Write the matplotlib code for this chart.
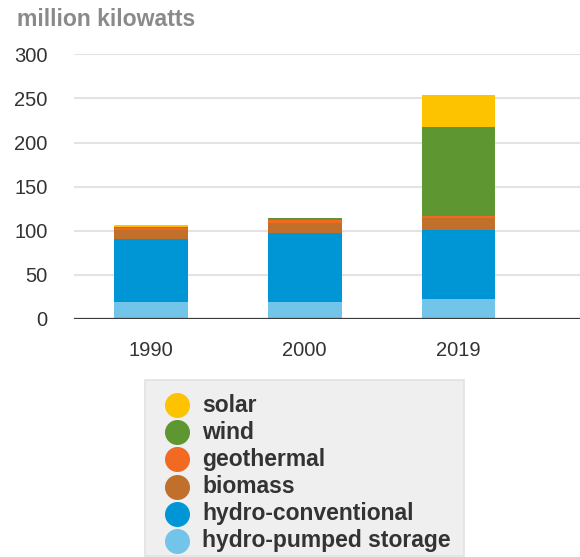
import matplotlib
matplotlib.use("Agg")
import matplotlib.pyplot as plt
from matplotlib.patches import Rectangle
import numpy as np

plt.rcParams['font.family'] = ['Liberation Sans', 'DejaVu Sans']

# Capacity by source, million kilowatts
years = ["1990", "2000", "2019"]
hydro_pumped = [19.0, 19.5, 22.9]
hydro_conventional = [72.0, 77.5, 78.5]
biomass = [10.0, 12.0, 12.8]
geothermal = [2.6, 2.8, 2.2]
wind = [1.2, 2.4, 101.0]
solar = [1.5, 0.3, 36.5]

series_names = ["hydro-pumped storage", "hydro-conventional", "biomass",
                "geothermal", "wind", "solar"]
series_values = [hydro_pumped, hydro_conventional, biomass, geothermal, wind, solar]
series_colors = ["#73c4e9", "#0096d6", "#c0702a", "#f26a22", "#5e9732", "#fdc300"]

y_ticks = [0, 50, 100, 150, 200, 250, 300]

W, H = 580, 557
fig = plt.figure(figsize=(W / 100, H / 100), dpi=100)
ax = fig.add_axes([74 / W, 1 - 319 / H, 506 / W, 264.7 / H])

x = np.arange(len(years))
bottom = np.zeros(len(years))
for vals, col in zip(series_values, series_colors):
    ax.bar(x, vals, bottom=bottom, width=0.48, color=col, zorder=3, linewidth=0)
    bottom += np.array(vals)

ax.set_xlim(-0.5, 2.79)
ax.set_ylim(0, 300)
ax.set_yticks(y_ticks)
ax.set_xticks(x, years)
for yv in y_ticks[1:]:
    ax.axhline(yv, color="#e3e3e3", lw=1.5, zorder=1)
ax.axhline(0, color="#3a3a3a", lw=1.6, zorder=4)

for s in ax.spines.values():
    s.set_visible(False)
ax.tick_params(axis="both", length=0, labelsize=14.5, labelcolor="#333333")
ax.tick_params(axis="y", pad=19)
ax.tick_params(axis="x", pad=15.5)

fig.text(17 / W, 1 - 20 / H, "million kilowatts", fontsize=16.6, fontweight="bold",
         color="#8a8a8a", va="center", ha="left")

# Legend panel
box = Rectangle((145 / W, 1 - 556 / H), (464 - 145) / W, (556 - 380) / H,
                transform=fig.transFigure, facecolor="#efefef",
                edgecolor="#e2e2e2", lw=1.2)
fig.add_artist(box)
legend_rows = list(zip(series_names, series_colors))[::-1]
for i, (name, col) in enumerate(legend_rows):
    yc = 1 - (405 + 27.2 * i) / H
    fig.add_artist(plt.Line2D([177 / W], [yc], marker="o", markersize=17,
                              color=col, transform=fig.transFigure, lw=0))
    fig.text(202 / W, yc, name, fontsize=16.5, fontweight="bold",
             color="#333333", va="center", ha="left")

fig.savefig("out.png", dpi=100)
